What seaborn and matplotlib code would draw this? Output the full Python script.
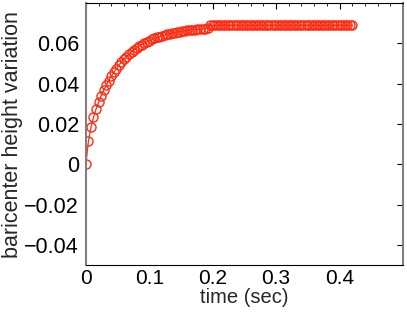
import numpy as np
import pandas as pd
import matplotlib
matplotlib.use('Agg')
import matplotlib.pyplot as plt
import seaborn as sns
from matplotlib.ticker import MultipleLocator

# time samples (sec), one every 0.004 s
time_sec = [
    0.000, 0.004, 0.008, 0.012, 0.016, 0.020, 0.024, 0.028, 0.032, 0.036,
    0.040, 0.044, 0.048, 0.052, 0.056, 0.060, 0.064, 0.068, 0.072, 0.076,
    0.080, 0.084, 0.088, 0.092, 0.096, 0.100, 0.104, 0.108, 0.112, 0.116,
    0.120, 0.124, 0.128, 0.132, 0.136, 0.140, 0.144, 0.148, 0.152, 0.156,
    0.160, 0.164, 0.168, 0.172, 0.176, 0.180, 0.184, 0.188, 0.192, 0.196,
    0.200, 0.204, 0.208, 0.212, 0.216, 0.220, 0.224, 0.228, 0.232, 0.236,
    0.240, 0.244, 0.248, 0.252, 0.256, 0.260, 0.264, 0.268, 0.272, 0.276,
    0.280, 0.284, 0.288, 0.292, 0.296, 0.300, 0.304, 0.308, 0.312, 0.316,
    0.320, 0.324, 0.328, 0.332, 0.336, 0.340, 0.344, 0.348, 0.352, 0.356,
    0.360, 0.364, 0.368, 0.372, 0.376, 0.380, 0.384, 0.388, 0.392, 0.396,
    0.400, 0.404, 0.408, 0.412, 0.416, 0.420,
]

# baricenter height variation
height_var = [
    0.0000, 0.0114, 0.0183, 0.0233, 0.0274, 0.0308, 0.0339, 0.0367, 0.0392, 0.0416,
    0.0437, 0.0457, 0.0475, 0.0492, 0.0508, 0.0522, 0.0535, 0.0547, 0.0558, 0.0568,
    0.0577, 0.0586, 0.0594, 0.0601, 0.0608, 0.0614, 0.0620, 0.0625, 0.0630, 0.0634,
    0.0638, 0.0642, 0.0645, 0.0649, 0.0652, 0.0654, 0.0657, 0.0659, 0.0661, 0.0663,
    0.0665, 0.0666, 0.0668, 0.0669, 0.0670, 0.0672, 0.0673, 0.0674, 0.0675, 0.0690,
    0.0690, 0.0690, 0.0690, 0.0690, 0.0690, 0.0690, 0.0690, 0.0690, 0.0690, 0.0690,
    0.0690, 0.0690, 0.0690, 0.0690, 0.0690, 0.0690, 0.0690, 0.0690, 0.0690, 0.0690,
    0.0690, 0.0690, 0.0690, 0.0690, 0.0690, 0.0690, 0.0690, 0.0690, 0.0690, 0.0690,
    0.0690, 0.0690, 0.0690, 0.0690, 0.0690, 0.0690, 0.0690, 0.0690, 0.0690, 0.0690,
    0.0690, 0.0690, 0.0690, 0.0690, 0.0690, 0.0690, 0.0690, 0.0690, 0.0690, 0.0690,
    0.0690, 0.0690, 0.0690, 0.0690, 0.0690, 0.0690,
]

x_ticks = [0, 0.1, 0.2, 0.3, 0.4]
x_tick_labels = ['0', '0.1', '0.2', '0.3', '0.4']
y_ticks = [-0.04, -0.02, 0, 0.02, 0.04, 0.06]
y_tick_labels = ['\u22120.04', '\u22120.02', '0', '0.02', '0.04', '0.06']

df = pd.DataFrame({'t': time_sec, 'h': height_var})

sns.set_style('white')
plt.rcParams['font.family'] = ['Liberation Sans', 'DejaVu Sans']

fig = plt.figure(figsize=(4.07, 3.13), dpi=100)
ax = fig.add_axes([0.211, 0.153, 0.779, 0.837])

sns.lineplot(data=df, x='t', y='h', ax=ax, color='#ff2a10', lw=0.9,
             marker='o', markersize=6.5, markerfacecolor='none',
             markeredgecolor='#ff2a10', markeredgewidth=1.0)

ax.set_xlim(0, 0.5)
ax.set_ylim(-0.05, 0.08)
ax.set_xticks(x_ticks)
ax.set_xticklabels(x_tick_labels)
ax.set_yticks(y_ticks)
ax.set_yticklabels(y_tick_labels)
ax.xaxis.set_minor_locator(MultipleLocator(0.02))

ax.tick_params(which='both', direction='in', top=True, right=True,
               labelsize=15.5, colors='black')
ax.tick_params(which='major', length=4, width=0.8, pad=5)
ax.tick_params(which='minor', length=2, width=0.6)
ax.tick_params(axis='y', which='minor', left=False, right=False)
ax.tick_params(axis='x', which='major', pad=2.5, labelsize=15)

for side in ['left', 'right']:
    ax.spines[side].set_color('#808080')
    ax.spines[side].set_linewidth(1.5)
for side in ['top', 'bottom']:
    ax.spines[side].set_color('black')
    ax.spines[side].set_linewidth(0.8)

ax.set_xlabel('time (sec)', fontsize=14.5, labelpad=0)
ax.set_ylabel('baricenter height variation', fontsize=15.5, labelpad=1)

fig.savefig('out.png', dpi=100)
